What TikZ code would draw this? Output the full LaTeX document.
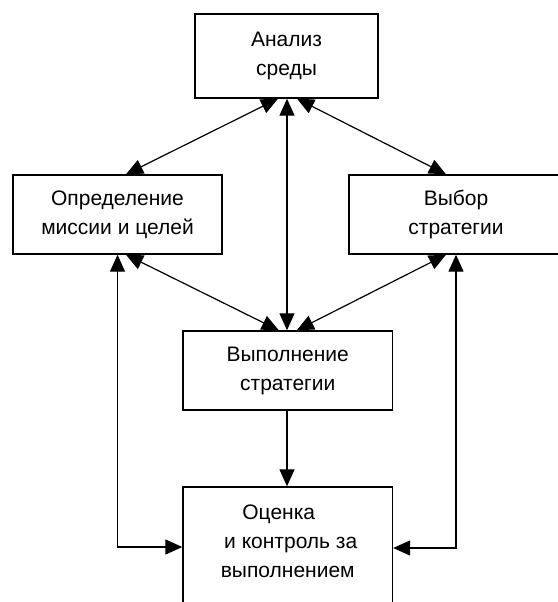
\documentclass[tikz,border=0pt]{standalone}
\usepackage{fontspec}
\setmainfont{Liberation Sans}
\usetikzlibrary{arrows.meta,calc}
\begin{document}
\begin{tikzpicture}[x=1pt,y=-1pt,
  txt/.style={inner sep=0pt,align=center,font=\fontsize{21}{29}\selectfont},
  box/.style={txt,draw,line width=1.4pt,rectangle},
  arr/.style={line width=1.2pt,{Triangle[length=17pt,width=15pt]}-{Triangle[length=17pt,width=15pt]}},
  arrone/.style={line width=1.2pt,-{Triangle[length=17pt,width=15pt]}}]
\useasboundingbox (0,0) rectangle (557,602);
\node[box,minimum width=183pt,minimum height=84pt] (env) at (286.5,56) {Анализ\\среды};
\node[box,minimum width=209pt,minimum height=79pt] (mis) at (117.5,214.5) {Определение\\миссии и целей};
\node[box,minimum width=214pt,minimum height=79pt] (sel) at (456,214.5) {Выбор\\стратегии};
\node[box,minimum width=209.5pt,minimum height=79pt] (exe) at (287.75,370.5) {Выполнение\\стратегии};
\node[box,minimum width=209.5pt,minimum height=118pt] (ctl) at (287.75,546) {};
\node[txt] (ctltxt) at (287.75,541) {Оценка\hspace*{18pt}\\\hspace*{6pt}и контроль за\\выполнением};
\draw[arr] ([xshift=-8.5pt]env.south) -- ([xshift=8.5pt]mis.north);
\draw[arr] ([xshift=10.5pt]env.south) -- ([xshift=-10pt]sel.north);
\draw[arr] ([xshift=0.5pt]env.south) -- ([xshift=-0.75pt]exe.north);
\draw[arr] ([xshift=8.5pt]mis.south) -- ([xshift=-9pt]exe.north);
\draw[arr] ([xshift=-10pt]sel.south) -- ([xshift=9pt]exe.north);
\draw[arrone] ([xshift=-0.75pt]exe.south) -- ([xshift=-0.75pt]ctl.north);
\draw[arr] (mis.south) |- ([yshift=-1pt]ctl.west);
\draw[arr] (sel.south) |- ([yshift=-2pt]ctl.east);
\end{tikzpicture}
\end{document}
